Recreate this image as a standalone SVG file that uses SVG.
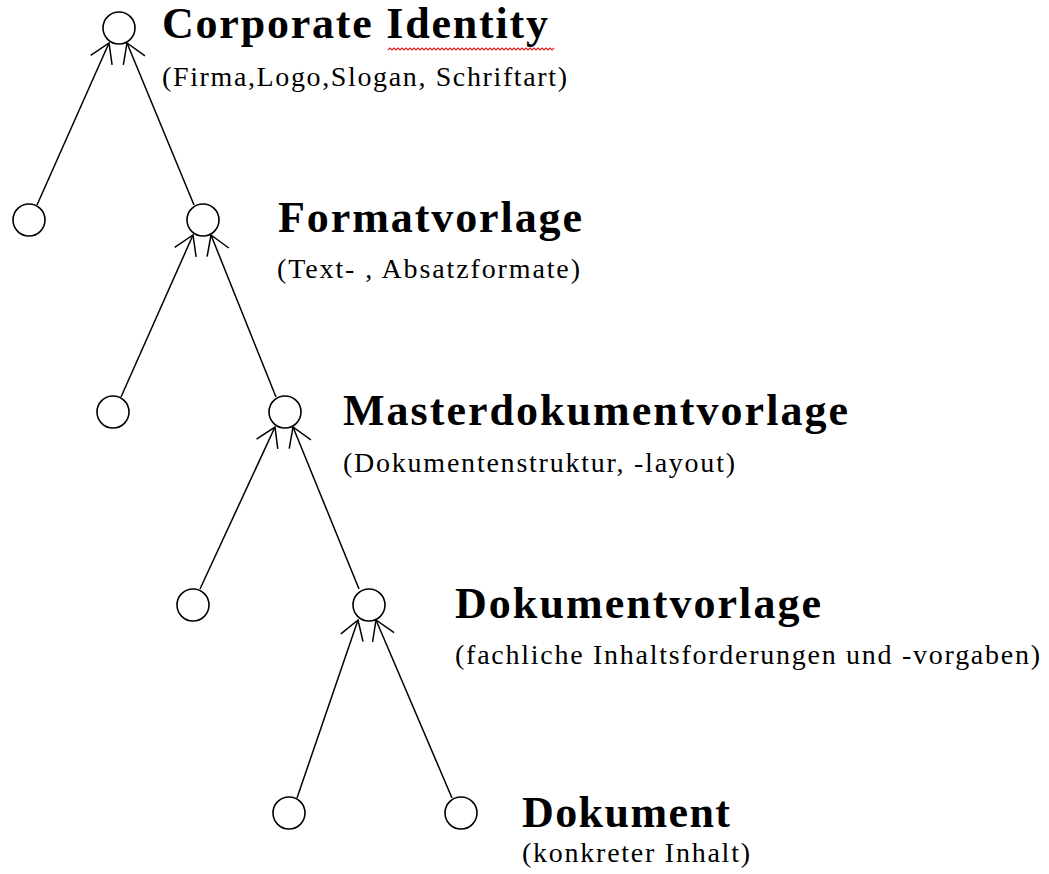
<svg xmlns="http://www.w3.org/2000/svg" width="1049" height="874" viewBox="0 0 1049 874">
  <style>
    .node circle { fill: #fff; stroke: #000; stroke-width: 1.6; }
    .title { font-family: "Liberation Serif", "Times New Roman", serif; font-weight: bold; font-size: 44px; fill: #000; }
    .sub { font-family: "Liberation Serif", "Times New Roman", serif; font-size: 28px; fill: #000; }
    .edge { stroke: #000; stroke-width: 1.5; fill: none; marker-end: url(#open); }
  </style>
  <defs>
    <marker id="open" markerUnits="userSpaceOnUse" markerWidth="40" markerHeight="40" viewBox="-25 -20 30 40" refX="0" refY="0" orient="auto">
      <path d="M-18.7,-11.7 L0,0 L-18.7,11.7" fill="none" stroke="#000" stroke-width="1.5"/>
    </marker>
  </defs>

  <rect width="1049" height="874" fill="#fff"/>

  <!-- connectors: child top -> parent bottom -->
  <g id="connectors">
    <line class="edge" x1="37" y1="205" x2="109" y2="43"/>
    <line class="edge" x1="194" y1="205" x2="127" y2="43"/>
    <line class="edge" x1="121" y1="397" x2="193" y2="235"/>
    <line class="edge" x1="276" y1="397" x2="211" y2="235"/>
    <line class="edge" x1="200" y1="589" x2="275" y2="427"/>
    <line class="edge" x1="359" y1="589" x2="293" y2="427"/>
    <line class="edge" x1="297" y1="798" x2="358" y2="620"/>
    <line class="edge" x1="452" y1="798" x2="376" y2="620"/>
  </g>

  <g id="n-corporate" class="node">
    <circle cx="119" cy="28" r="16"/>
    <text class="title" x="162" y="38" textLength="386" lengthAdjust="spacing">Corporate Identity</text>
    <!-- spell-check squiggle under "Identity" -->
    <path d="M388,50 l2,-2 l2,2 l2,-2 l2,2 l2,-2 l2,2 l2,-2 l2,2 l2,-2 l2,2 l2,-2 l2,2 l2,-2 l2,2 l2,-2 l2,2 l2,-2 l2,2 l2,-2 l2,2 l2,-2 l2,2 l2,-2 l2,2 l2,-2 l2,2 l2,-2 l2,2 l2,-2 l2,2 l2,-2 l2,2 l2,-2 l2,2 l2,-2 l2,2 l2,-2 l2,2 l2,-2 l2,2 l2,-2 l2,2 l2,-2 l2,2 l2,-2 l2,2 l2,-2 l2,2 l2,-2 l2,2 l2,-2 l2,2 l2,-2 l2,2 l2,-2 l2,2 l2,-2 l2,2 l2,-2 l2,2 l2,-2 l2,2 l2,-2 l2,2 l2,-2 l2,2 l2,-2 l2,2 l2,-2 l2,2 l2,-2 l2,2 l2,-2 l2,2 l2,-2 l2,2 l2,-2 l2,2 l2,-2 l2,2 l2,-2 l2,2 l2,-2" fill="none" stroke="#e81c1c" stroke-width="1.2"/>
    <text class="sub" x="162" y="86" textLength="405" lengthAdjust="spacing">(Firma,Logo,Slogan, Schriftart)</text>
  </g>

  <g id="n-left1" class="node"><circle cx="29" cy="220" r="16"/></g>
  <g id="n-format" class="node">
    <circle cx="203" cy="220" r="16"/>
    <text class="title" x="278" y="232" textLength="304" lengthAdjust="spacing">Formatvorlage</text>
    <text class="sub" x="277" y="278" textLength="303" lengthAdjust="spacing">(Text- , Absatzformate)</text>
  </g>

  <g id="n-left2" class="node"><circle cx="113" cy="412" r="16"/></g>
  <g id="n-master" class="node">
    <circle cx="285" cy="412" r="16"/>
    <text class="title" x="343" y="425" textLength="505" lengthAdjust="spacing">Masterdokumentvorlage</text>
    <text class="sub" x="343" y="472" textLength="392" lengthAdjust="spacing">(Dokumentenstruktur, -layout)</text>
  </g>

  <g id="n-left3" class="node"><circle cx="193" cy="605" r="16"/></g>
  <g id="n-dokvorlage" class="node">
    <circle cx="369" cy="605" r="16"/>
    <text class="title" x="455" y="618" textLength="366" lengthAdjust="spacing">Dokumentvorlage</text>
    <text class="sub" x="455" y="664" textLength="585" lengthAdjust="spacing">(fachliche Inhaltsforderungen und -vorgaben)</text>
  </g>

  <g id="n-left4" class="node"><circle cx="289" cy="813" r="16"/></g>
  <g id="n-dokument" class="node">
    <circle cx="461" cy="813" r="16"/>
    <text class="title" x="522" y="827" textLength="208" lengthAdjust="spacing">Dokument</text>
    <text class="sub" x="522" y="862" textLength="228" lengthAdjust="spacing">(konkreter Inhalt)</text>
  </g>
</svg>
